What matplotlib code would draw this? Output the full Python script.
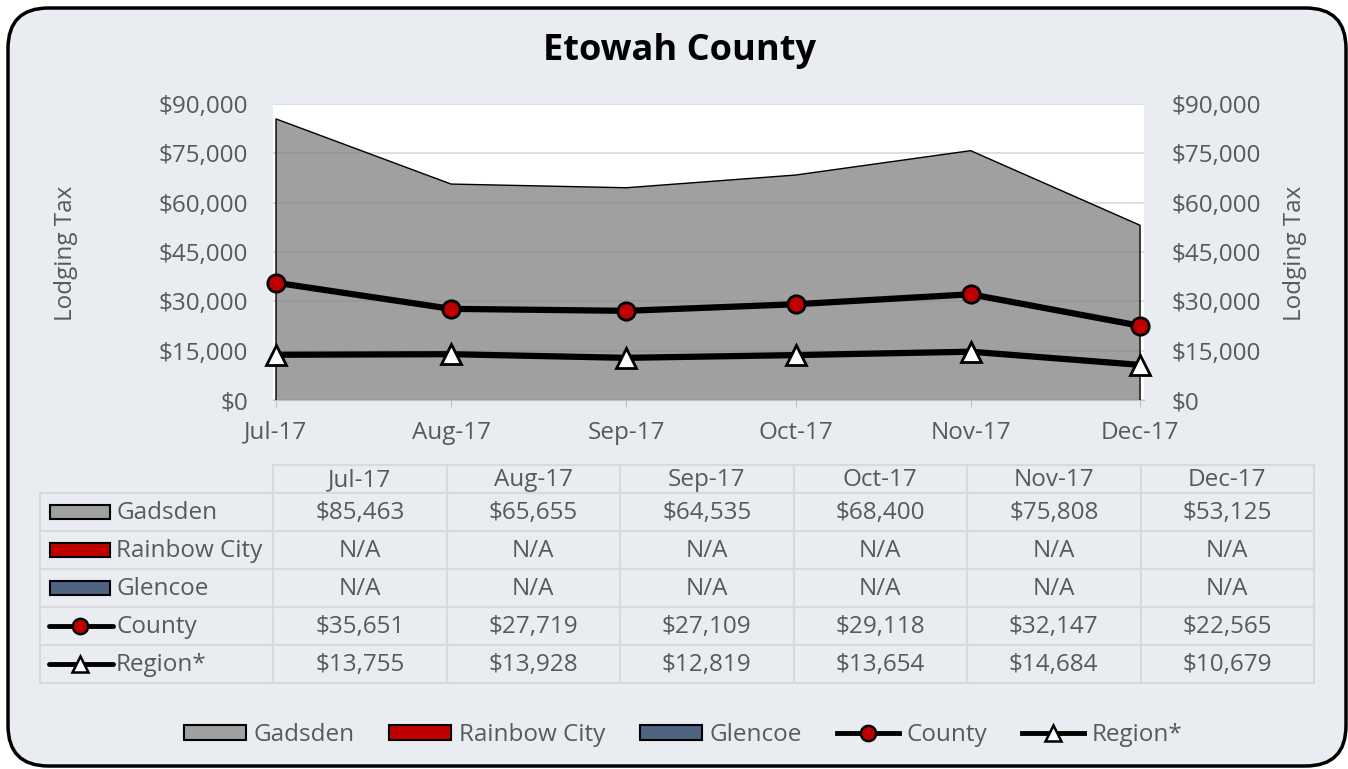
import numpy as np
import matplotlib
matplotlib.use("Agg")
import matplotlib.pyplot as plt
from matplotlib.patches import FancyBboxPatch, Rectangle
from matplotlib.lines import Line2D
from matplotlib.ticker import FuncFormatter, MultipleLocator

# Datos del gráfico
months = ["2017-07-01", "2017-08-01", "2017-09-01", "2017-10-01", "2017-11-01", "2017-12-01"]
month_labels = ["Jul-17", "Aug-17", "Sep-17", "Oct-17", "Nov-17", "Dec-17"]
gadsden = [85463, 65655, 64535, 68400, 75808, 53125]
rainbow_city = [None, None, None, None, None, None]  # N/A
glencoe = [None, None, None, None, None, None]  # N/A
county = [35651, 27719, 27109, 29118, 32147, 22565]
region = [13755, 13928, 12819, 13654, 14684, 10679]

series_names = ["Gadsden", "Rainbow City", "Glencoe", "County", "Region*"]
series_values = [gadsden, rainbow_city, glencoe, county, region]

# Estilos
BG = "#E9ECF1"
TXT = "#595959"
GRID = "#D9D9D9"
GREY = "#808080"
RED = "#C00000"
SLATE = "#4F6480"
FONT = "Open Sans"
FS = 17.5

plt.rcParams["font.family"] = [FONT, "DejaVu Sans"]

W, H = 1348, 769
fig = plt.figure(figsize=(W / 100, H / 100), dpi=100, facecolor="white")


def fx(px):
    return px / W


def fy(py):
    return 1 - py / H


# Marco redondeado
frame = FancyBboxPatch((fx(8), fy(766)), fx(1338), 758 / H,
                       boxstyle="round,pad=0,rounding_size=0.03",
                       transform=fig.transFigure, facecolor=BG,
                       edgecolor="black", linewidth=2.5, zorder=-1,
                       mutation_aspect=W / H)
fig.patches.append(frame)

# Eje principal (fechas como días desde el primer mes)
days = (np.array(months, dtype="datetime64[D]") - np.datetime64(months[0])).astype(int)

ax = fig.add_axes([fx(273), fy(400), fx(1144) - fx(273), (400 - 104) / H])
ax.set_facecolor("white")
ax.set_xlim(-0.53, 153.7)
ax.set_ylim(0, 90000)
ax.yaxis.set_major_locator(MultipleLocator(15000))
ax.grid(axis="y", color=GRID, linewidth=1.2, zorder=1)
ax.set_axisbelow(True)

ax.fill_between(days, gadsden, 0, facecolor=GREY, alpha=0.75,
                edgecolor="none", zorder=2)
ax.plot(np.r_[days[0], days, days[-1]], np.r_[0, gadsden, 0],
        color="black", linewidth=1, zorder=3)
ax.plot(days, county, color="black", linewidth=4.5, marker="o",
        markersize=12.5, markerfacecolor=RED, markeredgecolor="black",
        markeredgewidth=2, zorder=5, clip_on=False)
ax.plot(days, region, color="black", linewidth=4.5, marker="^",
        markersize=14, markerfacecolor="white", markeredgecolor="black",
        markeredgewidth=2, zorder=5, clip_on=False)

money = FuncFormatter(lambda v, p: f"${v:,.0f}")
ax.yaxis.set_major_formatter(money)
ax.set_xticks(days)
ax.set_xticklabels(month_labels)
for s in ["top", "left", "right"]:
    ax.spines[s].set_visible(False)
ax.spines["bottom"].set_color("#BFBFBF")
ax.tick_params(axis="x", colors="#BFBFBF", length=5, pad=10,
               labelcolor=TXT, labelsize=FS)
ax.tick_params(axis="y", length=0, pad=18, labelcolor=TXT, labelsize=FS)

ax2 = ax.twinx()
ax2.set_ylim(ax.get_ylim())
ax2.yaxis.set_major_locator(MultipleLocator(15000))
ax2.yaxis.set_major_formatter(money)
ax2.tick_params(axis="y", length=0, pad=20, labelcolor=TXT, labelsize=FS)
for s in ax2.spines.values():
    s.set_visible(False)

fig.text(fx(66), fy(253), "Lodging Tax", rotation=90, ha="center",
         va="center", color=TXT, fontsize=FS)
fig.text(fx(1295), fy(253), "Lodging Tax", rotation=90, ha="center",
         va="center", color=TXT, fontsize=FS)
fig.text(fx(679), fy(51), "Etowah County", ha="center", va="center",
         fontsize=26, fontweight="bold", color="black")

# Tabla de datos (coordenadas en píxeles)
tab = fig.add_axes([0, 0, 1, 1])
tab.set_xlim(0, W)
tab.set_ylim(H, 0)
tab.axis("off")

col_x = np.linspace(273, 1314, 7)
row_y = [493, 531, 569, 607, 645, 683]
lkw = dict(color=GRID, linewidth=1.5)
tab.plot([273, 1314], [465, 465], **lkw)
for y in row_y:
    tab.plot([40, 1314], [y, y], **lkw)
tab.plot([40, 40], [493, 683], **lkw)
for x in col_x:
    tab.plot([x, x], [465, 683], **lkw)

centers = (col_x[:-1] + col_x[1:]) / 2
for cx, lab in zip(centers, month_labels):
    tab.text(cx, 480, lab, ha="center", va="center", color=TXT, fontsize=FS)

patch_colors = {"Gadsden": "#A0A0A0", "Rainbow City": RED, "Glencoe": SLATE}
for i, (name, vals) in enumerate(zip(series_names, series_values)):
    cy = (row_y[i] + row_y[i + 1]) / 2
    tab.text(116, cy + 1, name, ha="left", va="center", color=TXT, fontsize=FS)
    if name in patch_colors:
        tab.add_patch(Rectangle((50, cy - 7), 60, 14, facecolor=patch_colors[name],
                                edgecolor="black", linewidth=1.5))
    else:
        mk = dict(marker="o", markersize=11, markerfacecolor=RED) if name == "County" \
            else dict(marker="^", markersize=12, markerfacecolor="white")
        tab.plot([49, 113], [cy, cy], color="black", linewidth=3.5,
                 solid_capstyle="round")
        tab.plot([80], [cy], color="black", markeredgecolor="black",
                 markeredgewidth=1.8, **mk)
    for cx, v in zip(centers, vals):
        txt = "N/A" if v is None else f"${v:,.0f}"
        tab.text(cx, cy + 1, txt, ha="center", va="center", color=TXT, fontsize=FS)

# Leyenda inferior
handles = [
    Rectangle((0, 0), 1, 1, facecolor="#A0A0A0", edgecolor="black", linewidth=1.5),
    Rectangle((0, 0), 1, 1, facecolor=RED, edgecolor="black", linewidth=1.5),
    Rectangle((0, 0), 1, 1, facecolor=SLATE, edgecolor="black", linewidth=1.5),
    Line2D([], [], color="black", linewidth=3.5, marker="o", markersize=11,
           markerfacecolor=RED, markeredgecolor="black", markeredgewidth=1.8),
    Line2D([], [], color="black", linewidth=3.5, marker="^", markersize=12,
           markerfacecolor="white", markeredgecolor="black", markeredgewidth=1.8),
]
fig.legend(handles, series_names, loc="center", bbox_to_anchor=(fx(683), fy(735)),
           ncol=5, frameon=False, fontsize=FS, labelcolor=TXT,
           handlelength=2.55, handleheight=0.55, handletextpad=0.3,
           columnspacing=1.45)

fig.savefig("out.png", dpi=100, facecolor="white")
